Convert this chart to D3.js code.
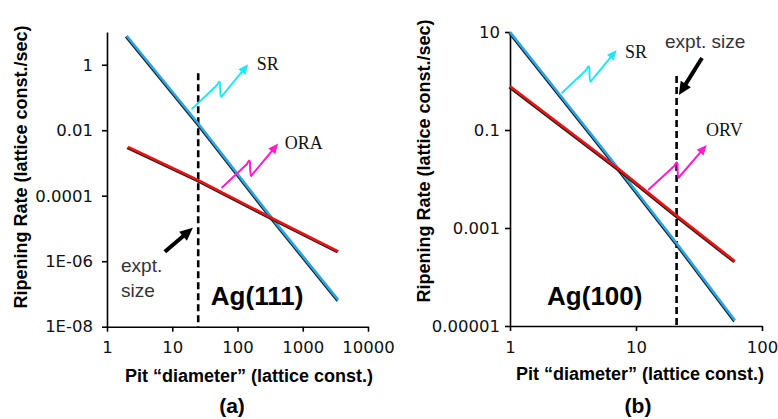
<!DOCTYPE html>
<html>
<head>
<meta charset="UTF-8">
<script src="https://d3js.org/d3.v7.min.js"></script>
<style>
  body { margin: 0; background: #fff; }
  .axis path, .axis line { stroke: #000; stroke-width: 1.6px; }
  .axisTitle { font-family: "Liberation Sans", Arial, sans-serif; font-weight: bold; font-size: 18px; fill: #000; }
  .panelTag { font-family: "Liberation Sans", Arial, sans-serif; font-weight: bold; font-size: 21px; }
  .surface { font-family: "Liberation Sans", Arial, sans-serif; font-weight: bold; font-size: 26px; }
  .curveName { font-family: "Liberation Serif", "Times New Roman", serif; font-size: 18px; fill: #111; }
  .expt { font-family: "Liberation Sans", Arial, sans-serif; font-size: 19px; fill: #333; }
</style>
</head>
<body>
<svg id="chart" width="778" height="419"></svg>
<script>
// ---- (a) Ag(111) ----
const d111 = [2, 25, 350, 3500];
const sr111 = [7.7, 0.016, 1.9e-5, 6.6e-8];
const dOra = [2.1, 25, 350, 3500];
const ora111 = [0.0031, 3.0e-4, 2.0e-5, 2.0e-6];
const xTicks111 = [1, 10, 100, 1000, 10000];
const yTicks111 = [1e-8, 1e-6, 1e-4, 0.01, 1];
const yLabels111 = ["1E-08", "1E-06", "0.0001", "0.01", "1"];
const expt111 = 25;

// ---- (b) Ag(100) ----
const d100 = [1, 7.3, 21, 61];
const sr100 = [10, 0.016, 4.9e-4, 1.3e-5];
const orv100 = [0.78, 0.016, 1.8e-3, 2.1e-4];
const xTicks100 = [1, 10, 100];
const yTicks100 = [1e-5, 0.001, 0.1, 10];
const yLabels100 = ["0.00001", "0.001", "0.1", "10"];
const expt100 = 21;

const svg = d3.select('#chart');

const BLUE = '#2aa6e6', RED = '#ee1111', CYAN = '#1ee8f5', MAGENTA = '#ff1ccf';

function head(g, from, to, len, wid, color) {
  const a = Math.atan2(to[1] - from[1], to[0] - from[0]);
  const ux = Math.cos(a), uy = Math.sin(a);
  const bx = to[0] - len * ux, by = to[1] - len * uy;
  const pts = [to, [bx - wid / 2 * uy, by + wid / 2 * ux], [bx + wid / 2 * uy, by - wid / 2 * ux]];
  g.append('polygon').attr('points', pts.map(p => p.join(',')).join(' ')).attr('fill', color);
  return [to[0] - (len - 2) * ux, to[1] - (len - 2) * uy];
}

// wiggly arrow from S to E (pixel coords)
function squiggle(g, S, E, color) {
  const dx = E[0] - S[0], dy = E[1] - S[1];
  const p1 = [S[0] + 0.45 * dx, S[1] + 0.45 * dy - 4];
  const pk = [p1[0] + 2.5, p1[1] - 4];
  const bt = [p1[0] + 4, p1[1] + 12];
  const tail = head(g, bt, E, 10, 9, color);
  const p = d3.path();
  p.moveTo(S[0], S[1]);
  p.lineTo(p1[0], p1[1]);
  p.quadraticCurveTo(pk[0], pk[1] - 2, pk[0] + 0.5, pk[1] + 3);
  p.quadraticCurveTo(bt[0] - 1, bt[1], bt[0], bt[1]);
  p.lineTo(tail[0], tail[1]);
  g.append('path')
    .attr('d', p.toString())
    .attr('fill', 'none').attr('stroke', color).attr('stroke-width', 2)
    .attr('stroke-linejoin', 'round');
}

function straightArrow(g, S, E) {
  const tail = head(g, S, E, 13, 12, '#000');
  g.append('line').attr('x1', S[0]).attr('y1', S[1]).attr('x2', tail[0]).attr('y2', tail[1])
    .attr('stroke', '#000').attr('stroke-width', 4);
}

function panel(o) {
  const g = svg.append('g');
  const x = d3.scaleLog().domain(o.xDom).range(o.xRange);
  const y = d3.scaleLog().domain(o.yDom).range(o.yRange);
  const P = (d) => [x(d[0]), y(d[1])];

  // axes
  const xa = g.append('g').attr('class', 'axis')
    .attr('transform', 'translate(0,' + o.yRange[0] + ')')
    .call(d3.axisBottom(x).tickValues(o.xTicks).tickFormat(d3.format('d'))
      .tickSize(5).tickSizeOuter(0).tickPadding(10));
  const ya = g.append('g').attr('class', 'axis')
    .attr('transform', 'translate(' + o.xRange[0] + ',0)')
    .call(d3.axisLeft(y).tickValues(o.yTicks).tickFormat((d, i) => o.yLabels[i])
      .tickSize(5).tickSizeOuter(0).tickPadding(o.yPad));
  [xa, ya].forEach(a => a.selectAll('text')
    .style('font-family', '"DejaVu Sans", Verdana, sans-serif')
    .style('font-size', '16.5px').style('fill', '#111'));

  // expt. size line
  g.append('line')
    .attr('x1', x(o.expt)).attr('x2', x(o.expt))
    .attr('y1', y(o.exptTop)).attr('y2', o.yRange[0])
    .attr('stroke', '#000').attr('stroke-width', 2.6).attr('stroke-dasharray', '7,4');

  // the two curves, each with a dark edge under it
  const line = d3.line().x(d => x(d[0])).y(d => y(d[1]));
  o.series.forEach(s => {
    const pts = s.x.map((v, i) => [v, s.y[i]]);
    g.append('path').datum(pts).attr('d', line)
      .attr('fill', 'none').attr('stroke', '#222').attr('stroke-width', 1.8)
      .attr('transform', 'translate(-1,1.2)');
    g.append('path').datum(pts).attr('d', line)
      .attr('fill', 'none').attr('stroke', s.color).attr('stroke-width', 2.6);
  });

  // annotations
  o.squiggles.forEach(a => squiggle(g, P(a.from), P(a.to), a.color));
  o.names.forEach(n => {
    g.append('text').attr('class', 'curveName')
      .attr('x', x(n.at[0])).attr('y', y(n.at[1])).attr('dy', '0.35em').text(n.text);
  });
  straightArrow(g, P(o.exptArrow[0]), P(o.exptArrow[1]));
  o.exptText.forEach(t => {
    g.append('text').attr('class', 'expt')
      .attr('x', x(t.at[0])).attr('y', y(t.at[1])).text(t.text);
  });
  g.append('text').attr('class', 'surface')
    .attr('x', x(o.surfaceAt[0])).attr('y', y(o.surfaceAt[1])).text(o.surface);

  // titles
  g.append('text').attr('class', 'axisTitle')
    .attr('text-anchor', 'middle')
    .attr('transform', 'translate(' + o.yTitle[0] + ',' + o.yTitle[1] + ') rotate(-90)')
    .text('Ripening Rate (lattice const./sec)');
  g.append('text').attr('class', 'axisTitle')
    .attr('text-anchor', 'middle')
    .attr('x', o.xTitle[0]).attr('y', o.xTitle[1])
    .text('Pit \u201cdiameter\u201d (lattice const.)');
  g.append('text').attr('class', 'panelTag')
    .attr('text-anchor', 'middle')
    .attr('x', o.tagAt[0]).attr('y', o.tagAt[1])
    .text(o.tag);
}

panel({
  xDom: [1, 10000], xRange: [107, 368],
  yDom: [1e-8, 10], yRange: [326.7, 32], yPad: 9,
  xTicks: xTicks111, yTicks: yTicks111, yLabels: yLabels111,
  expt: expt111, exptTop: 0.55,
  series: [
    { x: d111, y: sr111, color: BLUE },
    { x: dOra, y: ora111, color: RED }
  ],
  squiggles: [
    { from: [19.8, 0.0434], to: [146, 1.03], color: CYAN },
    { from: [57, 1.73e-4], to: [420, 3.9e-3], color: MAGENTA }
  ],
  names: [
    { text: 'SR', at: [198, 1.1] },
    { text: 'ORA', at: [532, 0.0042] }
  ],
  exptArrow: [[7.7, 1.94e-6], [20.7, 1.05e-5]],
  exptText: [
    { text: 'expt.', at: [1.64, 4.8e-7] },
    { text: 'size', at: [1.64, 8.3e-8] }
  ],
  surface: 'Ag(111)', surfaceAt: [39, 4.6e-8],
  yTitle: [27, 167], xTitle: [249, 382],
  tag: '(a)', tagAt: [232, 413]
});

panel({
  xDom: [1, 100], xRange: [510, 762],
  yDom: [1e-5, 10], yRange: [326, 32], yPad: 5,
  xTicks: xTicks100, yTicks: yTicks100, yLabels: yLabels100,
  expt: expt100, exptTop: 1.26,
  series: [
    { x: d100, y: sr100, color: BLUE },
    { x: d100, y: orv100, color: RED }
  ],
  squiggles: [
    { from: [2.57, 0.561], to: [7.03, 4.3], color: CYAN },
    { from: [12.5, 5.97e-3], to: [36.4, 0.0494], color: MAGENTA }
  ],
  names: [
    { text: 'SR', at: [8.18, 3.9] },
    { text: 'ORV', at: [36, 0.1] }
  ],
  exptArrow: [[33.4, 2.94], [21.9, 0.518]],
  exptText: [
    { text: 'expt. size', at: [17, 4.7] }
  ],
  surface: 'Ag(100)', surfaceAt: [1.97, 2.7e-5],
  yTitle: [430, 161], xTitle: [640, 380],
  tag: '(b)', tagAt: [638, 413]
});
</script>
</body>
</html>
